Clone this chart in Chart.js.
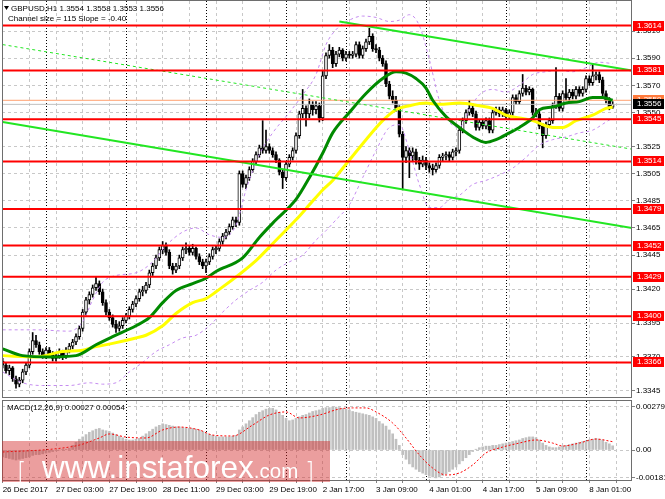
<!DOCTYPE html>
<html>
<head>
<meta charset="utf-8">
<title>GBPUSD H1</title>
<script src="https://cdn.jsdelivr.net/npm/chart.js@4.4.1/dist/chart.umd.min.js"></script>
<style>
  html, body { margin: 0; padding: 0; background: #fff; }
  #wrap { position: relative; width: 665px; height: 499px; overflow: hidden; }
  #priceChart { position: absolute; left: 0; top: 0; width: 665px; height: 400px; }
  #macdChart  { position: absolute; left: 0; top: 400px; width: 665px; height: 99px; }
</style>
</head>
<body>
<div id="wrap">
  <canvas id="priceChart" width="665" height="400"></canvas>
  <canvas id="macdChart" width="665" height="99"></canvas>
</div>
<script>
// ==========================
// Data (H1 candles, index 0 = 26 Dec 11:00)
// ==========================
const opens = [
  1.3367,1.3364,1.3360,1.3362,1.3354,1.3350,1.3353,1.3359,1.3364,1.3374,
  1.3382,1.3379,1.3374,1.3371,1.3375,1.3372,1.3369,1.3371,1.3374,1.3371,
  1.3375,1.3378,1.3381,1.3385,1.3391,1.3403,1.3412,1.3416,1.3421,1.3424,
  1.3418,1.3410,1.3403,1.3399,1.3394,1.3391,1.3393,1.3397,1.3400,1.3405,
  1.3409,1.3413,1.3418,1.3419,1.3423,1.3432,1.3437,1.3443,1.3449,1.3452,
  1.3447,1.3437,1.3434,1.3437,1.3443,1.3449,1.3450,1.3447,1.3450,1.3444,
  1.3440,1.3437,1.3440,1.3444,1.3449,1.3450,1.3455,1.3459,1.3462,1.3466,
  1.3471,1.3469,1.3505,1.3497,1.3502,1.3508,1.3514,1.3519,1.3524,1.3522,
  1.3525,1.3522,1.3519,1.3515,1.3506,1.3502,1.3512,1.3517,1.3522,1.3533,
  1.3549,1.3553,1.3549,1.3556,1.3552,1.3555,1.3546,1.3577,1.3592,1.3596,
  1.3586,1.3593,1.3596,1.3590,1.3593,1.3592,1.3593,1.3600,1.3592,1.3597,
  1.3602,1.3606,1.3597,1.3596,1.3590,1.3586,1.3571,1.3562,1.3559,1.3553,
  1.3534,1.3517,1.3522,1.3518,1.3521,1.3515,1.3512,1.3515,1.3511,1.3509,
  1.3508,1.3511,1.3517,1.3518,1.3519,1.3517,1.3521,1.3522,1.3537,1.3544,
  1.3550,1.3553,1.3549,1.3539,1.3543,1.3540,1.3544,1.3537,1.3550,1.3552,
  1.3549,1.3552,1.3547,1.3550,1.3561,1.3558,1.3564,1.3568,1.3565,1.3567,
  1.3550,1.3549,1.3540,1.3533,1.3541,1.3544,1.3555,1.3562,1.3553,1.3564,
  1.3561,1.3565,1.3562,1.3567,1.3564,1.3567,1.3575,1.3572,1.3577,1.3578,
  1.3574,1.3564,1.3559,1.3554
];
const highs = [
  1.3369,1.3366,1.3364,1.3363,1.3356,1.3355,1.3361,1.3366,1.3376,1.3388,
  1.3386,1.3381,1.3376,1.3377,1.3377,1.3374,1.3373,1.3376,1.3375,1.3377,
  1.3380,1.3383,1.3387,1.3393,1.3405,1.3414,1.3418,1.3423,1.3429,1.3426,
  1.3420,1.3412,1.3405,1.3401,1.3397,1.3396,1.3399,1.3402,1.3407,1.3411,
  1.3415,1.3420,1.3422,1.3425,1.3434,1.3439,1.3445,1.3451,1.3455,1.3454,
  1.3449,1.3439,1.3439,1.3445,1.3451,1.3454,1.3452,1.3453,1.3451,1.3446,
  1.3442,1.3442,1.3446,1.3451,1.3452,1.3457,1.3461,1.3464,1.3468,1.3473,
  1.3473,1.3507,1.3507,1.3504,1.3510,1.3516,1.3521,1.3526,1.3544,1.3537,
  1.3527,1.3524,1.3521,1.3516,1.3508,1.3514,1.3519,1.3524,1.3535,1.3551,
  1.3567,1.3555,1.3560,1.3558,1.3558,1.3557,1.3581,1.3594,1.3600,1.3598,
  1.3595,1.3598,1.3597,1.3595,1.3595,1.3595,1.3602,1.3602,1.3599,1.3604,
  1.3612,1.3608,1.3600,1.3598,1.3592,1.3588,1.3573,1.3566,1.3562,1.3555,
  1.3536,1.3525,1.3524,1.3524,1.3523,1.3517,1.3518,1.3517,1.3513,1.3512,
  1.3513,1.3519,1.3520,1.3521,1.3521,1.3523,1.3524,1.3539,1.3546,1.3552,
  1.3559,1.3555,1.3551,1.3545,1.3545,1.3546,1.3546,1.3552,1.3554,1.3554,
  1.3554,1.3553,1.3552,1.3563,1.3563,1.3566,1.3578,1.3570,1.3569,1.3568,
  1.3553,1.3551,1.3542,1.3543,1.3546,1.3557,1.3583,1.3564,1.3566,1.3575,
  1.3567,1.3567,1.3569,1.3569,1.3569,1.3577,1.3577,1.3586,1.3580,1.3580,
  1.3576,1.3566,1.3561,1.3558
];
const lows = [
  1.3362,1.3358,1.3357,1.3352,1.3347,1.3348,1.3351,1.3357,1.3362,1.3372,
  1.3377,1.3372,1.3369,1.3369,1.3370,1.3367,1.3367,1.3369,1.3368,1.3369,
  1.3373,1.3376,1.3379,1.3383,1.3389,1.3401,1.3409,1.3414,1.3419,1.3416,
  1.3408,1.3401,1.3397,1.3392,1.3388,1.3389,1.3391,1.3395,1.3398,1.3403,
  1.3407,1.3411,1.3415,1.3417,1.3421,1.3430,1.3435,1.3441,1.3446,1.3445,
  1.3435,1.3431,1.3432,1.3435,1.3441,1.3446,1.3445,1.3445,1.3442,1.3438,
  1.3435,1.3432,1.3438,1.3442,1.3446,1.3448,1.3453,1.3457,1.3460,1.3464,
  1.3466,1.3467,1.3495,1.3494,1.3500,1.3506,1.3512,1.3517,1.3520,1.3520,
  1.3520,1.3517,1.3513,1.3504,1.3494,1.3500,1.3510,1.3515,1.3520,1.3531,
  1.3546,1.3540,1.3546,1.3548,1.3549,1.3543,1.3544,1.3575,1.3590,1.3583,
  1.3584,1.3591,1.3588,1.3588,1.3590,1.3590,1.3591,1.3590,1.3590,1.3595,
  1.3600,1.3595,1.3594,1.3588,1.3584,1.3569,1.3560,1.3557,1.3551,1.3532,
  1.3493,1.3513,1.3502,1.3514,1.3512,1.3508,1.3510,1.3508,1.3506,1.3504,
  1.3506,1.3509,1.3514,1.3515,1.3514,1.3515,1.3518,1.3520,1.3535,1.3542,
  1.3548,1.3547,1.3537,1.3537,1.3538,1.3538,1.3535,1.3535,1.3548,1.3547,
  1.3547,1.3545,1.3545,1.3548,1.3556,1.3556,1.3562,1.3563,1.3563,1.3548,
  1.3547,1.3538,1.3524,1.3531,1.3539,1.3542,1.3553,1.3551,1.3551,1.3559,
  1.3559,1.3560,1.3560,1.3562,1.3562,1.3565,1.3570,1.3570,1.3574,1.3572,
  1.3562,1.3557,1.3552,1.3553
];
const closes = [
  1.3364,1.3360,1.3362,1.3354,1.3350,1.3353,1.3359,1.3364,1.3374,1.3382,
  1.3379,1.3374,1.3371,1.3375,1.3372,1.3369,1.3371,1.3374,1.3371,1.3375,
  1.3378,1.3381,1.3385,1.3391,1.3403,1.3412,1.3416,1.3421,1.3424,1.3418,
  1.3410,1.3403,1.3399,1.3394,1.3391,1.3393,1.3397,1.3400,1.3405,1.3409,
  1.3413,1.3418,1.3419,1.3423,1.3432,1.3437,1.3443,1.3449,1.3452,1.3447,
  1.3437,1.3434,1.3437,1.3443,1.3449,1.3450,1.3447,1.3450,1.3444,1.3440,
  1.3437,1.3440,1.3444,1.3449,1.3450,1.3455,1.3459,1.3462,1.3466,1.3471,
  1.3469,1.3505,1.3497,1.3502,1.3508,1.3514,1.3519,1.3524,1.3522,1.3525,
  1.3522,1.3519,1.3515,1.3506,1.3502,1.3512,1.3517,1.3522,1.3533,1.3549,
  1.3553,1.3549,1.3556,1.3552,1.3555,1.3546,1.3577,1.3592,1.3596,1.3586,
  1.3593,1.3596,1.3590,1.3593,1.3592,1.3593,1.3600,1.3592,1.3597,1.3602,
  1.3606,1.3597,1.3596,1.3590,1.3586,1.3571,1.3562,1.3559,1.3553,1.3534,
  1.3517,1.3522,1.3518,1.3521,1.3515,1.3512,1.3515,1.3511,1.3509,1.3508,
  1.3511,1.3517,1.3518,1.3519,1.3517,1.3521,1.3522,1.3537,1.3544,1.3550,
  1.3553,1.3549,1.3539,1.3543,1.3540,1.3544,1.3537,1.3550,1.3552,1.3549,
  1.3552,1.3547,1.3550,1.3561,1.3558,1.3564,1.3568,1.3565,1.3567,1.3550,
  1.3549,1.3540,1.3533,1.3541,1.3544,1.3555,1.3562,1.3553,1.3564,1.3561,
  1.3565,1.3562,1.3567,1.3564,1.3567,1.3575,1.3572,1.3577,1.3578,1.3574,
  1.3564,1.3559,1.3554,1.3556
];

// green (fast) and yellow (slow) moving averages, sampled at candle indices
const fastMaIdx = [0,6,14,22,28,33,40,44,48,52,57,61,64,72,77,82,88,92,96,99,104,109,114,118,121,124,127,129,133,137,141,145,148,152,155,159,161,165,169,173,177,180,183];
const fastMa = [1.3376,1.3371,1.3370,1.3371,1.3379,1.3385,1.3393,1.3399,1.3410,1.3419,1.3424,1.3428,1.3433,1.3443,1.3458,1.3471,1.3486,1.3502,1.3520,1.3535,1.3550,1.3564,1.3575,1.3580,1.3579,1.3575,1.3568,1.3559,1.3547,1.3539,1.3532,1.3528,1.3530,1.3535,1.3539,1.3546,1.3552,1.3554,1.3557,1.3558,1.3561,1.3561,1.3559];
const slowMaIdx = [0,10,18,24,27,33,40,43,48,52,57,61,64,76,82,88,92,96,99,104,109,114,118,122,127,131,137,143,147,151,155,159,165,168,172,177,181,183];
const slowMa = [1.3371,1.3370,1.3374,1.3375,1.3377,1.3380,1.3384,1.3386,1.3393,1.3402,1.3410,1.3413,1.3418,1.3441,1.3456,1.3471,1.3482,1.3493,1.3500,1.3515,1.3530,1.3544,1.3552,1.3555,1.3557,1.3556,1.3557,1.3555,1.3553,1.3548,1.3546,1.3544,1.3539,1.3539,1.3544,1.3548,1.3553,1.3554];

// violet dashed envelope
const bandUpIdx = [0,10,20,24,27,30,34,40,45,49,54,58,62,66,70,73,77,81,86,90,94,97,100,104,108,112,116,119,122,125,128,131,134,137,140,143,147,151,155,159,163,167,171,175,179,183];
const bandUp = [1.3390,1.3390,1.3389,1.3396,1.3412,1.3425,1.3430,1.3432,1.3440,1.3452,1.3462,1.3465,1.3460,1.3458,1.3467,1.3493,1.3519,1.3535,1.3550,1.3563,1.3578,1.3600,1.3611,1.3618,1.3621,1.3620,1.3617,1.3618,1.3622,1.3614,1.3589,1.3559,1.3543,1.3539,1.3552,1.3563,1.3567,1.3565,1.3570,1.3578,1.3580,1.3581,1.3580,1.3583,1.3587,1.3586];
const bandLowIdx = [0,6,12,20,26,30,34,38,42,46,50,54,58,62,66,70,74,78,82,86,90,94,97,100,104,108,112,116,119,122,125,128,131,134,137,141,145,149,153,157,161,165,169,173,177,181,183];
const bandLow = [1.3359,1.3351,1.3349,1.3349,1.3351,1.3350,1.3351,1.3359,1.3366,1.3374,1.3379,1.3384,1.3386,1.3393,1.3403,1.3412,1.3419,1.3425,1.3434,1.3440,1.3445,1.3456,1.3463,1.3471,1.3482,1.3502,1.3522,1.3539,1.3541,1.3522,1.3497,1.3480,1.3480,1.3486,1.3489,1.3497,1.3500,1.3504,1.3509,1.3517,1.3526,1.3530,1.3532,1.3535,1.3537,1.3543,1.3546];

// MACD(12,26,9): histogram per candle, signal sampled
const macdHist = [
  -0.00045,-0.00050,-0.00055,-0.00060,-0.00065,-0.00060,-0.00055,-0.00050,-0.00045,-0.00035,
  -0.00030,-0.00030,-0.00025,-0.00020,-0.00015,-0.00010,-0.00005,0.00000,0.00005,0.00005,
  0.00010,0.00030,0.00050,0.00070,0.00085,0.00100,0.00115,0.00125,0.00135,0.00140,
  0.00130,0.00125,0.00120,0.00110,0.00100,0.00090,0.00080,0.00070,0.00065,0.00065,
  0.00070,0.00075,0.00090,0.00105,0.00120,0.00135,0.00150,0.00160,0.00170,0.00165,
  0.00160,0.00155,0.00150,0.00150,0.00145,0.00145,0.00140,0.00140,0.00135,0.00130,
  0.00120,0.00110,0.00100,0.00095,0.00090,0.00085,0.00085,0.00085,0.00085,0.00090,
  0.00095,0.00130,0.00150,0.00170,0.00190,0.00210,0.00230,0.00245,0.00255,0.00265,
  0.00270,0.00270,0.00260,0.00245,0.00225,0.00205,0.00190,0.00195,0.00205,0.00215,
  0.00225,0.00230,0.00240,0.00250,0.00255,0.00260,0.00270,0.00275,0.00275,0.00279,
  0.00278,0.00275,0.00270,0.00265,0.00260,0.00250,0.00245,0.00240,0.00235,0.00230,
  0.00225,0.00215,0.00205,0.00185,0.00170,0.00155,0.00130,0.00105,0.00070,0.00030,
  -0.00030,-0.00060,-0.00090,-0.00110,-0.00125,-0.00140,-0.00150,-0.00160,-0.00170,-0.00175,
  -0.00181,-0.00175,-0.00165,-0.00155,-0.00140,-0.00125,-0.00110,-0.00090,-0.00070,-0.00050,
  -0.00030,-0.00010,0.00005,0.00015,0.00020,0.00025,0.00025,0.00030,0.00030,0.00035,
  0.00040,0.00045,0.00050,0.00055,0.00060,0.00065,0.00075,0.00080,0.00085,0.00085,
  0.00080,0.00065,0.00045,0.00030,0.00020,0.00015,0.00015,0.00020,0.00025,0.00030,
  0.00035,0.00040,0.00045,0.00050,0.00055,0.00060,0.00065,0.00070,0.00075,0.00070,
  0.00065,0.00050,0.00040,0.00027
];
const signalIdx = [0,15,23,29,32,37,43,48,53,59,63,69,75,80,85,89,95,101,105,109,112,117,121,125,129,133,137,141,145,150,155,160,165,168,173,178,183];
const signal = [-0.00013,0.00006,0.00032,0.00078,0.00104,0.00084,0.00078,0.00130,0.00149,0.00130,0.00097,0.00091,0.00162,0.00227,0.00247,0.00208,0.00227,0.00266,0.00273,0.00273,0.00247,0.00175,0.00078,-0.00032,-0.00117,-0.00162,-0.00149,-0.00097,-0.00019,0.00019,0.00045,0.00065,0.00045,0.00026,0.00045,0.00071,0.00054];

// drawn objects
const levels = [1.3614, 1.3581, 1.3545, 1.3514, 1.3479, 1.3452, 1.3429, 1.3400, 1.3366];
const channelIdx = [0, 188.8];
const channelUpperIdx = [101, 188.8];
const channelUpper = [1.3617, 1.3581];
const channelMid = [1.3600, 1.3523];
const channelLower = [1.3543, 1.3465];
const channelSize = 115;
const channelSlope = -0.40;
const bidPrice = 1.3556;
const askPrice = 1.3559;

// axes
const priceTicks = [1.3610, 1.3590, 1.3570, 1.3550, 1.3525, 1.3505, 1.3485, 1.3465, 1.3445, 1.3420, 1.3395, 1.3370, 1.3345];
const macdTicks = [0.00279, 0, -0.00181];
const timeLabels = ['26 Dec 2017', '27 Dec 03:00', '27 Dec 19:00', '28 Dec 11:00', '29 Dec 03:00', '29 Dec 19:00',
                    '2 Jan 17:00', '3 Jan 09:00', '4 Jan 01:00', '4 Jan 17:00', '5 Jan 09:00', '8 Jan 01:00'];
const daySeparators = [13, 37, 61, 85, 103, 127, 151, 175];

// ==========================
// Helpers
// ==========================
const FONT = '"Liberation Sans", Arial, sans-serif';
Chart.defaults.font.family = FONT;
Chart.defaults.font.size = 8;
Chart.defaults.color = '#000';

const lastIdx = closes.length - 1;
const X_MIN = -0.2, X_MAX = 188.8;

const pts = (xs, ys) => xs.map((x, i) => ({ x: x, y: ys[i] }));
const hline = v => [{ x: X_MIN, y: v }, { x: X_MAX, y: v }];

function line(data, color, width, dash, order, smooth) {
  return {
    type: 'line', data: data, borderColor: color, borderWidth: width, borderDash: dash || [],
    pointRadius: 0, fill: false, order: order, tension: 0,
    cubicInterpolationMode: smooth ? 'monotone' : 'default'
  };
}

function timeAxis(withLabels) {
  return {
    type: 'linear', min: X_MIN, max: X_MAX, offset: false,
    afterBuildTicks: s => {
      const t = [];
      for (let v = 0; v <= lastIdx + 1; v += 8) t.push({ value: v });
      s.ticks = t;
    },
    grid: { offset: false, color: '#c8c8c8', drawTicks: withLabels, tickLength: 2, tickColor: '#808080' },
    border: { display: false, dash: [3, 3] },
    ticks: {
      display: withLabels, autoSkip: false, maxRotation: 0, minRotation: 0, align: 'start', padding: 2,
      callback: v => (v % 16 === 0 && timeLabels[v / 16]) || ''
    },
    afterFit: s => { s.height = withLabels ? 18 : 0; s.paddingLeft = 0; s.paddingRight = 0; }
  };
}

function valueAxis(min, max, ticks, fmt) {
  return {
    position: 'right', min: min, max: max,
    afterBuildTicks: s => { s.ticks = ticks.map(v => ({ value: v })); },
    grid: { color: '#c8c8c8', tickLength: 3, tickColor: '#808080' },
    border: { display: false, dash: [3, 3] },
    ticks: { padding: 1, callback: fmt },
    afterFit: s => { s.width = 33; s.paddingTop = 0; s.paddingBottom = 0; }
  };
}

// ==========================
// Shared plugins
// ==========================
const separatorPlugin = {
  id: 'separators',
  beforeDatasetsDraw(chart) {
    const { ctx, chartArea: a, scales: { x } } = chart;
    ctx.save();
    ctx.strokeStyle = '#000';
    ctx.lineWidth = 1;
    ctx.setLineDash([1, 2]);
    daySeparators.forEach(v => {
      const px = Math.round(x.getPixelForValue(v)) + 0.5;
      ctx.beginPath(); ctx.moveTo(px, a.top); ctx.lineTo(px, a.bottom); ctx.stroke();
    });
    ctx.restore();
  }
};

const framePlugin = {
  id: 'frame',
  afterDraw(chart) {
    const { ctx, chartArea: a } = chart;
    ctx.save();
    ctx.strokeStyle = '#6e6e6e';
    ctx.lineWidth = 1;
    ctx.strokeRect(a.left + 0.5, a.top - 0.5, a.right - a.left - 1, a.bottom - a.top);
    ctx.restore();
  }
};

function priceTag(chart, value, text, bg) {
  const { ctx, chartArea: a, scales: { y } } = chart;
  const py = Math.round(y.getPixelForValue(value));
  ctx.fillStyle = bg;
  ctx.fillRect(a.right + 1, py - 5, 31, 10);
  ctx.fillStyle = '#fff';
  ctx.textBaseline = 'middle';
  ctx.textAlign = 'left';
  ctx.fillText(text, a.right + 5, py);
}

const pricePanelPlugin = {
  id: 'pricePanel',
  afterDraw(chart) {
    const ctx = chart.ctx;
    ctx.save();
    ctx.font = '8px ' + FONT;
    levels.forEach(v => priceTag(chart, v, v.toFixed(4), '#ff0000'));
    priceTag(chart, askPrice, askPrice.toFixed(4), '#ff7a3c');
    priceTag(chart, bidPrice, bidPrice.toFixed(4), '#000000');

    // header
    ctx.fillStyle = '#000';
    ctx.beginPath(); ctx.moveTo(4, 6); ctx.lineTo(9, 6); ctx.lineTo(6.5, 10); ctx.closePath(); ctx.fill();
    ctx.textBaseline = 'middle';
    ctx.fillText('GBPUSD,H1 ' + [opens[lastIdx], highs[lastIdx], lows[lastIdx], closes[lastIdx]]
      .map(v => v.toFixed(4)).join(' '), 11, 8.5);
    ctx.fillText('Channel size = ' + channelSize + ' Slope = ' + channelSlope.toFixed(2), 8, 18.5);
    ctx.restore();
  }
};

const macdPanelPlugin = {
  id: 'macdPanel',
  afterDraw(chart) {
    const ctx = chart.ctx;
    ctx.save();
    ctx.fillStyle = '#000';
    ctx.font = '8px ' + FONT;
    ctx.textBaseline = 'middle';
    ctx.fillText('MACD(12,26,9) ' + macdHist[lastIdx].toFixed(5) + ' ' + signal[signal.length - 1].toFixed(5), 7, 8);

    // instaforex watermark
    ctx.fillStyle = 'rgba(210, 40, 40, 0.45)';
    ctx.fillRect(2, 41, 328, 41);
    ctx.fillStyle = '#ffffff';
    ctx.textBaseline = 'alphabetic';
    ctx.font = '31.5px ' + FONT;
    ctx.fillText('www.instaforex', 42, 78);
    const w = ctx.measureText('www.instaforex').width;
    ctx.font = '20.5px ' + FONT;
    ctx.fillText('.com', 42 + w, 78);
    ctx.font = '200 24px "DejaVu Sans"';
    ctx.fillText('[', 17, 80);
    ctx.fillText(']', 305, 80);
    ctx.restore();
  }
};

// ==========================
// Price panel
// ==========================
const bodyColors = closes.map((c, i) => (c >= opens[i] ? '#ffffff' : '#000000'));

new Chart(document.getElementById('priceChart'), {
  type: 'bar',
  data: {
    datasets: [
      {
        label: 'wicks', grouped: false, order: 30,
        data: closes.map((_, i) => ({ x: i, y: [lows[i], highs[i]] })),
        backgroundColor: '#000000', barThickness: 1, borderWidth: 0
      },
      {
        label: 'bodies', grouped: false, order: 29,
        data: closes.map((c, i) => ({ x: i, y: [opens[i], c] })),
        backgroundColor: bodyColors, borderColor: '#000000', borderWidth: 1,
        borderSkipped: false, barThickness: 3, minBarLength: 1
      },
      line(hline(askPrice), '#ffa070', 1, null, 28, false),
      line(hline(bidPrice), '#c0c0c0', 1, null, 28, false),
      line(pts(bandUpIdx, bandUp), '#c58cf0', 1, [3, 3], 20, true),
      line(pts(bandLowIdx, bandLow), '#c58cf0', 1, [3, 3], 20, true),
      line(pts(slowMaIdx, slowMa), '#ffff00', 3, null, 12, true),
      line(pts(fastMaIdx, fastMa), '#008a00', 3, null, 11, true),
      line(pts(channelIdx, channelMid), '#22e622', 1, [3, 3], 5, false),
      line(pts(channelUpperIdx, channelUpper), '#22e622', 2, null, 4, false),
      line(pts(channelIdx, channelLower), '#22e622', 2, null, 4, false),
      ...levels.map(v => line(hline(v), '#ff0000', 2, null, 1, false))
    ]
  },
  options: {
    responsive: false,
    animation: false,
    events: [],
    layout: { padding: { left: 2, top: 1, right: 0, bottom: 2 } },
    plugins: { legend: { display: false }, tooltip: { enabled: false } },
    scales: {
      x: timeAxis(false),
      y: valueAxis(1.33398, 1.36321, priceTicks, v => v.toFixed(4))
    }
  },
  plugins: [separatorPlugin, framePlugin, pricePanelPlugin]
});

// ==========================
// MACD panel
// ==========================
new Chart(document.getElementById('macdChart'), {
  type: 'bar',
  data: {
    datasets: [
      {
        label: 'MACD', grouped: false, order: 2,
        data: macdHist.map((v, i) => ({ x: i, y: v })),
        backgroundColor: '#c0c0c0', barThickness: 2, borderWidth: 0
      },
      line(pts(signalIdx, signal), '#ff0000', 1, [2, 2], 1, true)
    ]
  },
  options: {
    responsive: false,
    animation: false,
    events: [],
    layout: { padding: { left: 2, top: 1, right: 0, bottom: 0 } },
    plugins: { legend: { display: false }, tooltip: { enabled: false } },
    scales: {
      x: timeAxis(true),
      y: valueAxis(-0.002011, 0.003179, macdTicks, v => (v === 0 ? '0.00' : v.toFixed(5)))
    }
  },
  plugins: [separatorPlugin, framePlugin, macdPanelPlugin]
});
</script>
</body>
</html>
